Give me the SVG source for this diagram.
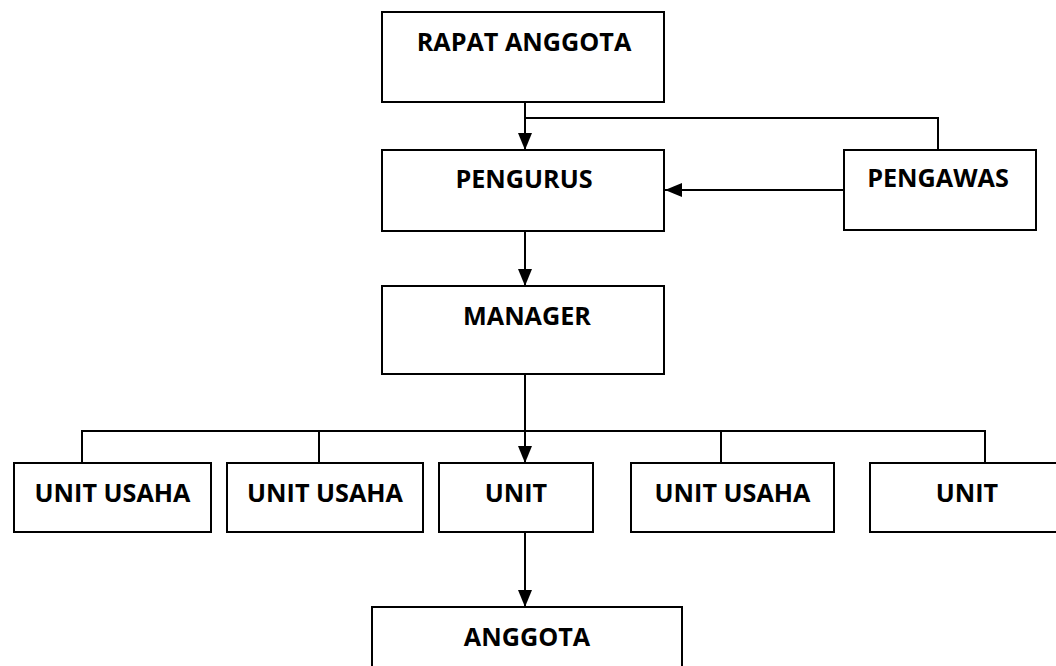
<svg xmlns="http://www.w3.org/2000/svg" width="1056" height="666" viewBox="0 0 1056 666">
<style>
.box{fill:#fff;stroke:#000;stroke-width:2}
.lbl{font-family:"Open Sans","Liberation Sans",sans-serif;font-weight:700;font-size:25.2px;fill:#000;text-anchor:middle}
.ln{fill:none;stroke:#000;stroke-width:2}
</style>
<defs>
<marker id="ah" markerUnits="userSpaceOnUse" markerWidth="17" markerHeight="16" viewBox="0 0 17 16" refX="17" refY="8" orient="auto">
<path d="M0 1 L17 8 L0 15 Z" fill="#000"/>
</marker>
</defs>
<rect width="1056" height="666" fill="#fff"/>
<g id="connectors">
<path class="ln" d="M525 102 V150" marker-end="url(#ah)"/>
<path class="ln" d="M525 118 H938 V150"/>
<path class="ln" d="M844 190 H665" marker-end="url(#ah)"/>
<path class="ln" d="M525 231 V286" marker-end="url(#ah)"/>
<path class="ln" d="M525 374 V463" marker-end="url(#ah)"/>
<path class="ln" d="M82 463 V431 H985 V463"/>
<path class="ln" d="M319 431 V463"/>
<path class="ln" d="M721 431 V463"/>
<path class="ln" d="M525 532 V607" marker-end="url(#ah)"/>
</g>
<g id="rapat-anggota"><rect class="box" x="382" y="12" width="282" height="90"/><text class="lbl" x="524" y="51">RAPAT ANGGOTA</text></g>
<g id="pengurus"><rect class="box" x="382" y="150" width="282" height="81"/><text class="lbl" x="524" y="188">PENGURUS</text></g>
<g id="pengawas"><rect class="box" x="844" y="150" width="192" height="80"/><text class="lbl" x="938" y="187">PENGAWAS</text></g>
<g id="manager"><rect class="box" x="382" y="286" width="282" height="88"/><text class="lbl" x="527" y="325">MANAGER</text></g>
<g id="unit-usaha-1"><rect class="box" x="14" y="463" width="197" height="69"/><text class="lbl" x="112.5" y="502">UNIT USAHA</text></g>
<g id="unit-usaha-2"><rect class="box" x="227" y="463" width="196" height="69"/><text class="lbl" x="325" y="502">UNIT USAHA</text></g>
<g id="unit-3"><rect class="box" x="439" y="463" width="154" height="69"/><text class="lbl" x="516" y="502">UNIT</text></g>
<g id="unit-usaha-4"><rect class="box" x="631" y="463" width="203" height="69"/><text class="lbl" x="732.5" y="502">UNIT USAHA</text></g>
<g id="unit-5"><rect class="box" x="870" y="463" width="194" height="69"/><text class="lbl" x="967" y="502">UNIT</text></g>
<g id="anggota"><rect class="box" x="372" y="607" width="310" height="80"/><text class="lbl" x="527" y="646">ANGGOTA</text></g>
</svg>
